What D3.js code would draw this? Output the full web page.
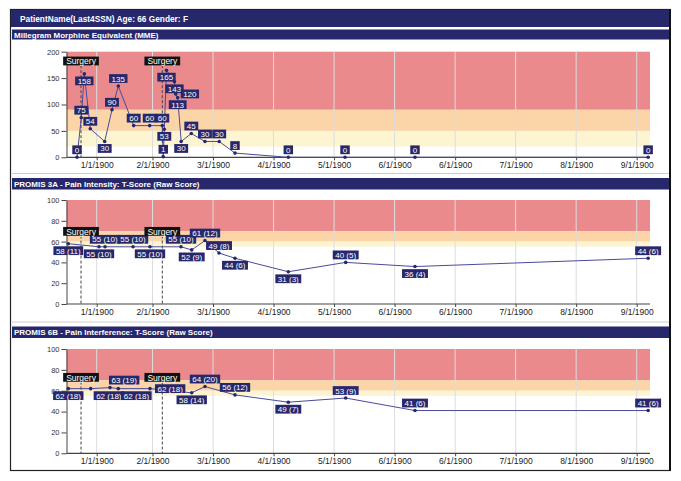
<!DOCTYPE html>
<html><head><meta charset="utf-8">
<script src="https://cdn.jsdelivr.net/npm/d3@7"></script>
<style>
body{margin:0;background:#fff}
svg{display:block}
text{font-family:"Liberation Sans",Arial,Helvetica,sans-serif}
</style>
</head><body>
<svg id="chart" width="681" height="481"></svg>
<script>
// ---------- data ----------
const headerText = "PatientName(Last4SSN) Age: 66 Gender: F";
const xTickLabels = ["1/1/1900","2/1/1900","3/1/1900","4/1/1900","5/1/1900","6/1/1900","6/1/1900","7/1/1900","8/1/1900","9/1/1900"];
const surgeryMonths = [-0.281, 1.162];   // position in months after 1/1/1900 (tick index units)
const surgeryLabel = "Surgery";

const mmeTitle = "Millegram Morphine Equivalent (MME)";
const mmeMonths = [-0.353,-0.276,-0.222,-0.115,0.143,0.274,0.387,0.663,0.95,1.162,1.178,1.195,1.231,1.363,1.383,1.416,1.474,1.641,1.867,2.102,2.363,3.244,4.181,5.337,9.189];
const mmeValues = [0,75,158,54,30,90,135,60,60,60,1,53,165,143,120,113,30,45,30,30,8,0,0,0,0];
const mmeLabelSide = ["a","a","b","a","b","a","a","a","a","a","a","b","b","b","r","b","b","a","a","a","a","a","a","a","a"];
const mmeYTicks = [0,50,100,150,200];
const mmeBandEdges = [200,90,50,20,0];

const painTitle = "PROMIS 3A - Pain Intensity: T-Score (Raw Score)";
const painMonths = [-0.509,0.041,0.149,0.651,0.955,1.471,1.648,1.867,2.099,2.363,3.244,4.192,5.337,9.189];
const painValues = [58,55,55,55,55,55,52,61,49,44,31,40,36,44];
const painRaw    = [11,10,10,10,10,10,9,12,8,6,3,5,4,6];
const painLabelSide = ["b","b","a","a","b","a","b","a","a","b","b","a","b","a"];

const interfTitle = "PROMIS 6B - Pain Interference: T-Score (Raw Score)";
const interfMonths = [-0.509,-0.108,0.238,0.387,0.955,1.648,1.867,2.363,3.244,4.192,5.337,9.189];
const interfValues = [62,62,63,62,62,58,64,56,49,53,41,41];
const interfRaw    = [18,18,19,18,18,14,20,12,7,9,6,6];
const interfLabelSide = ["b","br","ar","br","r","b","a","a","b","a","a","a"];

const promisYTicks = [0,20,40,60,80,100];
const promisBandEdges = [100,70,60,55,0];

// ---------- styles / layout ----------
const bandColors = ["#eb8a8d","#fbd4a8","#fdf5d2","#ffffff"];
const navy = "#27276b";
const lineColor = "#4a4a9c";

const panels = [
  {title: mmeTitle, months: mmeMonths, values: mmeValues, raw: null, sides: mmeLabelSide,
   yTicks: mmeYTicks, bands: mmeBandEdges, bar:[29.5,39.5], plot:[51.7,157.3]},
  {title: painTitle, months: painMonths, values: painValues, raw: painRaw, sides: painLabelSide,
   yTicks: promisYTicks, bands: promisBandEdges, bar:[178,189.5], plot:[200,304]},
  {title: interfTitle, months: interfMonths, values: interfValues, raw: interfRaw, sides: interfLabelSide,
   yTicks: promisYTicks, bands: promisBandEdges, bar:[326.5,338], plot:[349,453.3]}
];

const plotLeft = 66.5, plotRight = 650;
const svg = d3.select("#chart");

// frame
svg.append("rect").attr("x",10.5).attr("y",9.5).attr("width",659.5).attr("height",461)
  .attr("fill","#fff").attr("stroke","#222").attr("stroke-width",1.2);
svg.append("line").attr("x1",670).attr("x2",670).attr("y1",9).attr("y2",471).attr("stroke","#111").attr("stroke-width",2);

// header
svg.append("rect").attr("x",11).attr("y",10).attr("width",658).attr("height",17).attr("fill",navy);
svg.append("text").attr("x",20).attr("y",21.5).attr("fill","#fff").attr("font-size",8.3)
  .attr("font-weight","bold").text(headerText);

const x = d3.scaleLinear().domain([0,1,9]).range([96.7,152.5,636.7]);

panels.forEach((p, pi) => {
  const g = svg.append("g");
  const yMax = p.yTicks[p.yTicks.length-1];
  const y = d3.scaleLinear().domain([0,yMax]).range([p.plot[1], p.plot[0]]);

  // panel separator lines
  if (pi > 0) {
    g.append("line").attr("x1",12).attr("x2",669).attr("y1",p.bar[0]-4.5).attr("y2",p.bar[0]-4.5)
      .attr("stroke","#cfcfcf").attr("stroke-width",1);
  }
  // title bar
  g.append("rect").attr("x",12).attr("y",p.bar[0]).attr("width",657).attr("height",p.bar[1]-p.bar[0]).attr("fill",navy);
  g.append("text").attr("x",14).attr("y",(p.bar[0]+p.bar[1])/2+3).attr("fill","#fff")
    .attr("font-size",8).attr("font-weight","bold").text(p.title);

  // bands
  for (let i = 0; i < p.bands.length - 1; i++) {
    g.append("rect").attr("x",plotLeft).attr("width",plotRight-plotLeft)
      .attr("y",y(p.bands[i])).attr("height",y(p.bands[i+1])-y(p.bands[i])).attr("fill",bandColors[i]);
  }

  // gridlines
  g.selectAll(".grid").data(d3.range(xTickLabels.length)).join("line")
    .attr("x1",d=>x(d)).attr("x2",d=>x(d)).attr("y1",p.plot[0]).attr("y2",p.plot[1])
    .attr("stroke","#dcdcdc").attr("stroke-width",1);

  // y axis
  const ya = g.append("g").attr("transform",`translate(${plotLeft},0)`)
    .call(d3.axisLeft(y).tickValues(p.yTicks).tickSize(5).tickSizeOuter(0).tickPadding(2));
  ya.select(".domain").attr("stroke","#444");
  ya.selectAll(".tick line").attr("stroke","#444");
  ya.selectAll("text").attr("font-size",7.5).attr("fill","#333").attr("font-family","Liberation Sans, Arial, sans-serif");

  // x axis
  const xa = g.append("g").attr("transform",`translate(0,${p.plot[1]})`)
    .call(d3.axisBottom(x).tickValues(d3.range(xTickLabels.length)).tickFormat(i=>xTickLabels[i])
      .tickSize(3).tickSizeOuter(0).tickPadding(2));
  xa.select(".domain").remove();
  xa.selectAll(".tick line").attr("stroke","#444");
  xa.selectAll("text").attr("font-size",8.5).attr("fill","#222").attr("font-family","Liberation Sans, Arial, sans-serif");
  g.append("line").attr("x1",plotLeft).attr("x2",plotRight).attr("y1",p.plot[1]).attr("y2",p.plot[1])
    .attr("stroke","#444").attr("stroke-width",1.2);

  // surgery markers
  const surgY = y(d3.max(p.values)) - 9;
  surgeryMonths.forEach(m => {
    g.append("line").attr("x1",x(m)).attr("x2",x(m)).attr("y1",surgY+4).attr("y2",p.plot[1])
      .attr("stroke","#444").attr("stroke-width",1).attr("stroke-dasharray","3,2");
  });

  // line + points
  const pts = p.months.map((m,i)=>({m, v:p.values[i], r:p.raw ? p.raw[i] : null, s:p.sides[i]}));
  g.append("path").datum(pts)
    .attr("d", d3.line().x(d=>x(d.m)).y(d=>y(d.v)))
    .attr("fill","none").attr("stroke",lineColor).attr("stroke-width",1);
  g.selectAll(".pt").data(pts).join("circle")
    .attr("cx",d=>x(d.m)).attr("cy",d=>y(d.v)).attr("r",1.8).attr("fill",navy);

  // data labels
  pts.forEach(d => {
    const txt = d.r === null ? String(d.v) : `${d.v} (${d.r})`;
    const lg = g.append("g");
    const rect = lg.append("rect").attr("fill",navy);
    const t = lg.append("text").attr("fill","#fff").attr("font-size",8).attr("text-anchor","middle").text(txt);
    const w = t.node().getComputedTextLength() + 5, h = 8.8;
    const px = x(d.m), py = y(d.v);
    let cx = px, cy = py;
    if (d.s === "a") cy = py - 7.5;
    else if (d.s === "b") cy = py + 7;
    else if (d.s === "r") { cx = px + 5 + w/2; }
    else if (d.s === "ar") { cy = py - 7.5; cx = px + w/2 - 1; }
    else if (d.s === "br") { cy = py + 7; cx = px + w/2 + 3; }
    rect.attr("x",cx-w/2).attr("y",cy-h/2).attr("width",w).attr("height",h);
    t.attr("x",cx).attr("y",cy+3);
  });

  // surgery labels
  surgeryMonths.forEach(m => {
    const lg = g.append("g");
    const rect = lg.append("rect").attr("fill","#111");
    const t = lg.append("text").attr("fill","#fff").attr("font-size",8.5).attr("text-anchor","middle")
      .attr("x",x(m)).attr("y",surgY+3).text(surgeryLabel);
    const w = t.node().getComputedTextLength()+6;
    rect.attr("x",x(m)-w/2).attr("y",surgY-4.6).attr("width",w).attr("height",8.8);
  });
});
</script>
</body></html>
